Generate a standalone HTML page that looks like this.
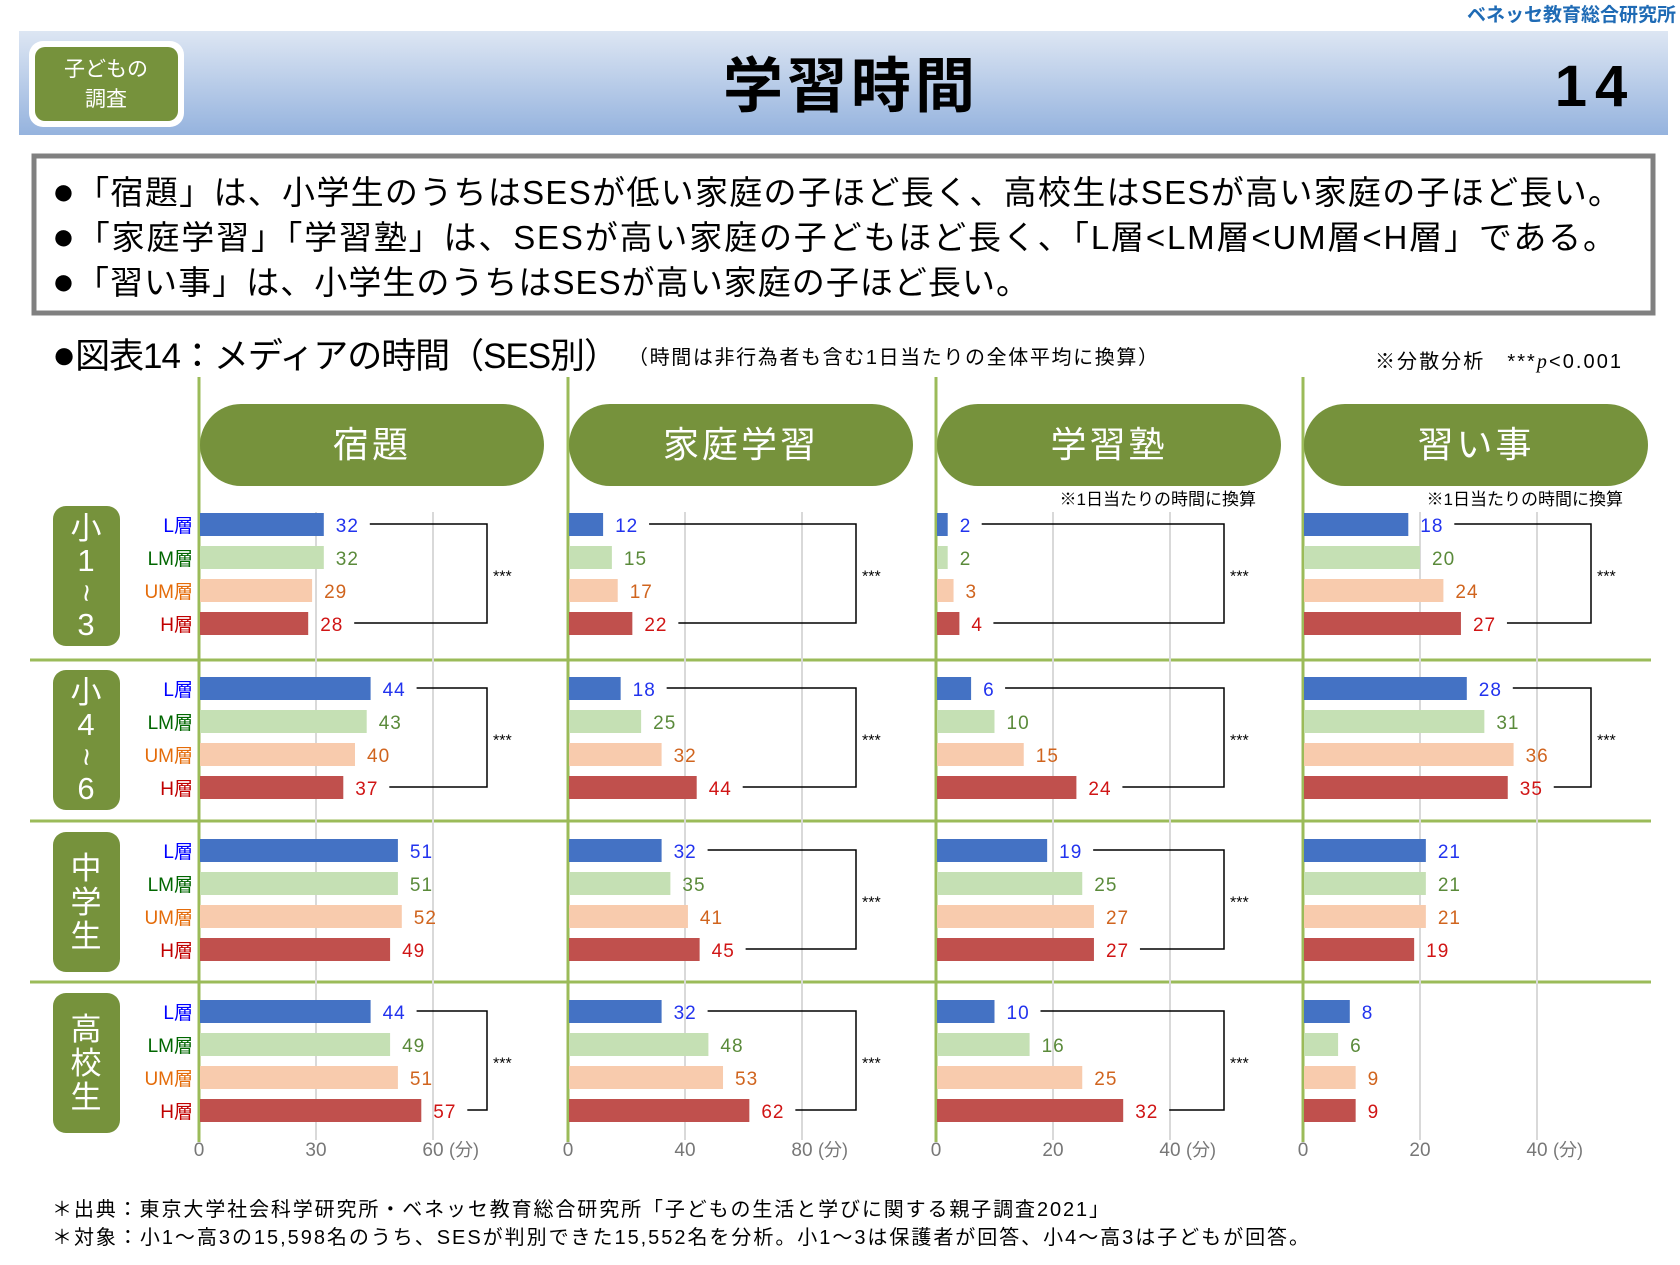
<!DOCTYPE html>
<html><head><meta charset="utf-8">
<style>
body{margin:0;width:1680px;height:1260px;background:#fff;overflow:hidden;font-family:"Liberation Sans","Noto Sans CJK JP",sans-serif;}
svg text{font-family:"Liberation Sans","Noto Sans CJK JP",sans-serif;}
</style></head>
<body>
<svg id="chart" width="1680" height="1260" viewBox="0 0 1680 1260" xmlns="http://www.w3.org/2000/svg">
<defs><linearGradient id="hg" x1="0" y1="0" x2="0" y2="1"><stop offset="0" stop-color="#dde6f3"/><stop offset="1" stop-color="#95b3de"/></linearGradient></defs>
<text x="1676" y="21" text-anchor="end" font-size="19" font-weight="bold" fill="#1f6bb5">ベネッセ教育総合研究所</text>
<rect x="19" y="31" width="1649" height="104" fill="url(#hg)"/>
<rect x="29" y="41" width="155" height="86" rx="14" fill="#fff"/>
<rect x="35" y="47" width="143" height="74" rx="10" fill="#76923c"/>
<text x="106" y="76" text-anchor="middle" font-size="21" fill="#fff">子どもの</text>
<text x="106" y="106" text-anchor="middle" font-size="21" fill="#fff">調査</text>
<text x="851" y="107" text-anchor="middle" font-size="60" font-weight="bold" fill="#000" letter-spacing="4">学習時間</text>
<text x="1595" y="106" text-anchor="middle" font-size="58" font-weight="bold" fill="#000" letter-spacing="8">14</text>
<rect x="34" y="156" width="1619" height="157" fill="#fff" stroke="#808080" stroke-width="5"/>
<g font-size="33" fill="#000">
<text x="52" y="204" textLength="1569" lengthAdjust="spacing"><tspan font-size="38">●</tspan>「宿題」は、小学生のうちはSESが低い家庭の子ほど長く、高校生はSESが高い家庭の子ほど長い。</text>
<text x="52" y="249" textLength="1564" lengthAdjust="spacing"><tspan font-size="38">●</tspan>「家庭学習」「学習塾」は、SESが高い家庭の子どもほど長く、「L層&lt;LM層&lt;UM層&lt;H層」である。</text>
<text x="52" y="294" textLength="977" lengthAdjust="spacing"><tspan font-size="38">●</tspan>「習い事」は、小学生のうちはSESが高い家庭の子ほど長い。</text>
</g>
<text x="52" y="368" font-size="35" fill="#000" textLength="567" lengthAdjust="spacing"><tspan font-size="40">●</tspan>図表14：メディアの時間（SES別）</text>
<text x="628" y="364" font-size="20" fill="#000" textLength="530" lengthAdjust="spacing">（時間は非行為者も含む1日当たりの全体平均に換算）</text>
<text x="1375" y="368" font-size="20" fill="#000" textLength="246" lengthAdjust="spacing">※分散分析　***<tspan font-style="italic" font-family="Liberation Serif">p</tspan>&lt;0.001</text>
<g id="plot"></g>
<text x="52" y="1216" font-size="20" fill="#000" textLength="1057" lengthAdjust="spacing">＊出典：東京大学社会科学研究所・ベネッセ教育総合研究所「子どもの生活と学びに関する親子調査2021」</text>
<text x="52" y="1244" font-size="20" fill="#000" textLength="1257" lengthAdjust="spacing">＊対象：小1～高3の15,598名のうち、SESが判別できた15,552名を分析。小1～3は保護者が回答、小4～高3は子どもが回答。</text>
</svg>
<script>
const panels = ["宿題","家庭学習","学習塾","習い事"];
const groups = ["小1~3","小4~6","中学生","高校生"];
const layers = ["L層","LM層","UM層","H層"];
const homework = [[32,32,29,28],[44,43,40,37],[51,51,52,49],[44,49,51,57]];
const homeStudy = [[12,15,17,22],[18,25,32,44],[32,35,41,45],[32,48,53,62]];
const cramSchool = [[2,2,3,4],[6,10,15,24],[19,25,27,27],[10,16,25,32]];
const lessons = [[18,20,24,27],[28,31,36,35],[21,21,21,19],[8,6,9,9]];
const ticks = [[0,30,60],[0,40,80],[0,20,40],[0,20,40]];
const sig = [[1,1,0,1],[1,1,1,1],[1,1,1,1],[1,1,0,0]];

const NS="http://www.w3.org/2000/svg";
const plot=document.getElementById('plot');
function mk(tag,attrs,parent){const e=document.createElementNS(NS,tag);for(const k in attrs)e.setAttribute(k,attrs[k]);(parent||plot).appendChild(e);return e;}
const allData=[homework,homeStudy,cramSchool,lessons];
const axisX=[199,568,936,1303];
const gridStep=117;
const barCols=["#4472c4","#c5e0b4","#f8cbad","#c0504d"];
const labCols=["#0000ff","#006600","#e46c0a","#c00000"];
const valCols=["#2233ee","#5a8a3a","#d0641e","#d01515"];
const groupTop=[506,670,832,993];
const sepY=[660,821,982];
function xScale(p,v){const t=ticks[p];return axisX[p]+v/t[1]*gridStep;}
function rowY(g,i){return groupTop[g]+7+i*33;}

sepY.forEach(function(y){
  const l=mk('line',{x1:30,y1:y,x2:1651,y2:y,stroke:'#9bbb59','stroke-width':3});
  
  
});
groups.forEach(function(gname,g){
  const r=mk('rect',{x:53,y:groupTop[g],width:67,height:140,rx:13,fill:'#76923c'});
  
  
  const chars=gname==="小1~3"?["小","1","~","3"]:gname==="小4~6"?["小","4","~","6"]:gname.split("");
  const n=chars.length;const step=n===4?32:34;
  const y0=groupTop[g]+70-(n-1)*step/2+11;
  chars.forEach(function(c,k){
    const t=mk('text',{x:86,y:y0+k*step,'text-anchor':'middle','font-size':31,fill:'#fff'});
    if(c==="~"){t.setAttribute('transform','rotate(90 86 '+(y0+k*step-10)+')');}
    t.textContent=c;
  });
  layers.forEach(function(ln,i){
    const t=mk('text',{x:193,y:rowY(g,i)+19,'text-anchor':'end','font-size':19,fill:labCols[i]});
    
    
    t.textContent=ln;
  });
});
panels.forEach(function(pn,p){
  const ax=axisX[p];
  ticks[p].forEach(function(tv,k){
    const x=xScale(p,tv);
    if(k>0){
      const gl=mk('line',{x1:x,y1:512,x2:x,y2:1140,stroke:'#d9d9d9','stroke-width':2});
      
      
    }
    const tl=mk('text',{x:x,y:1156,'text-anchor':'middle','font-size':19,fill:'#777'});
    
    
    tl.textContent=tv;
    if(k===ticks[p].length-1){
      const u=mk('text',{x:x+16,y:1156,'font-size':18,fill:'#777'});
      
      
      u.textContent='(分)';
    }
  });
  const al=mk('line',{x1:ax,y1:377,x2:ax,y2:1142,stroke:'#9bbb59','stroke-width':3});
  
  
  const pill=mk('rect',{x:ax+1,y:404,width:344,height:82,rx:41,fill:'#76923c'});
  
  
  const pt=mk('text',{x:ax+173,y:457,'text-anchor':'middle','font-size':36,fill:'#fff','letter-spacing':3});
  pt.textContent=pn;
  if(p>=2){
    const nt=mk('text',{x:ax+320,y:505,'text-anchor':'end','font-size':17,fill:'#000'});
    
    
    nt.textContent='※1日当たりの時間に換算';
  }
  const data=allData[p];
  groups.forEach(function(gname,g){
    let ends=[];
    data[g].forEach(function(v,i){
      const y=rowY(g,i);
      const b=mk('rect',{x:ax+1,y:y,width:xScale(p,v)-ax-1,height:23,fill:barCols[i]});
      
      
      const lx=xScale(p,v)+12;
      const vt=mk('text',{x:lx,y:y+19,'font-size':19,fill:valCols[i],'letter-spacing':1});
      
      
      vt.textContent=v;
      ends.push(lx+String(v).length*12+10);
    });
    if(sig[p][g]){
      const bx=ax+288;
      const y1=rowY(g,0)+11, y2=rowY(g,3)+11;
      const br=mk('polyline',{points:ends[0]+','+y1+' '+bx+','+y1+' '+bx+','+y2+' '+ends[3]+','+y2,fill:'none',stroke:'#000','stroke-width':1.5});
      
      
      const st=mk('text',{x:bx+6,y:(y1+y2)/2+8,'font-size':16,fill:'#000'});
      
      
      st.textContent='***';
    }
  });
});
</script>
</body></html>
